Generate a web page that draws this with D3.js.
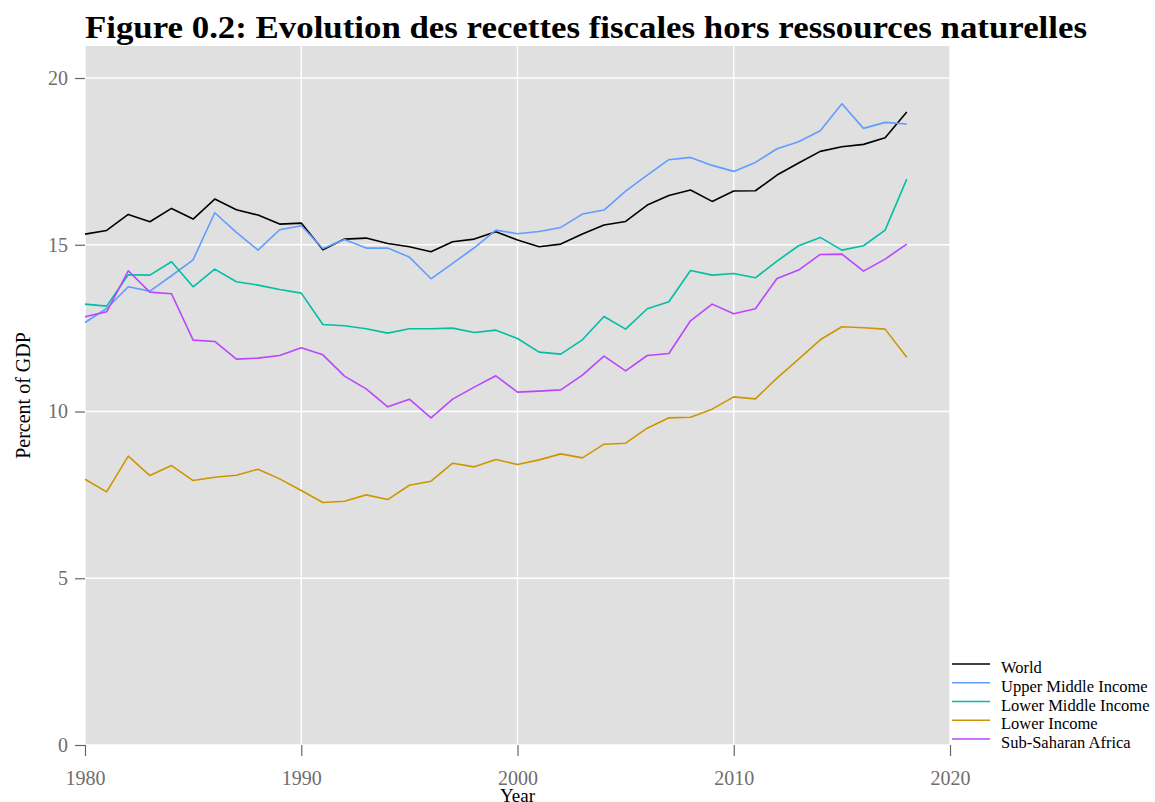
<!DOCTYPE html>
<html>
<head>
<meta charset="utf-8">
<script src="https://cdn.jsdelivr.net/npm/d3@7"></script>
<style>
  body { margin: 0; background: #fff; }
  svg { display: block; }
  text { font-family: "Liberation Serif", "Times New Roman", serif; }
</style>
</head>
<body>
<div id="chart"></div>
<script>
// years on the x axis
let years = d3.range(1980, 2019);

// series values, percent of GDP
let world = [15.32, 15.43, 15.91, 15.69, 16.09, 15.77, 16.37, 16.05, 15.89, 15.62,
             15.65, 14.85, 15.17, 15.20, 15.04, 14.94, 14.79, 15.09, 15.17, 15.39,
             15.14, 14.94, 15.02, 15.32, 15.59, 15.70, 16.19, 16.48, 16.64, 16.30,
             16.61, 16.62, 17.09, 17.45, 17.80, 17.94, 18.01, 18.21, 18.98];
let upperMiddle = [12.67, 13.09, 13.74, 13.61, 14.07, 14.55, 15.96, 15.37, 14.84, 15.45,
                   15.57, 14.89, 15.16, 14.90, 14.90, 14.63, 13.98, 14.44, 14.91, 15.44,
                   15.33, 15.40, 15.52, 15.92, 16.04, 16.61, 17.09, 17.55, 17.62, 17.38,
                   17.20, 17.47, 17.88, 18.09, 18.42, 19.23, 18.49, 18.67, 18.62];
let lowerMiddle = [13.22, 13.16, 14.10, 14.09, 14.49, 13.74, 14.27, 13.89, 13.79, 13.66,
                   13.55, 12.61, 12.57, 12.48, 12.35, 12.48, 12.48, 12.50, 12.37, 12.44,
                   12.19, 11.78, 11.72, 12.15, 12.85, 12.47, 13.08, 13.29, 14.23, 14.09,
                   14.14, 14.01, 14.51, 14.97, 15.22, 14.84, 14.97, 15.44, 16.97];
let lowerIncome = [7.97, 7.59, 8.66, 8.08, 8.38, 7.93, 8.03, 8.09, 8.27, 7.98,
                   7.63, 7.27, 7.31, 7.50, 7.36, 7.79, 7.91, 8.45, 8.34, 8.56,
                   8.41, 8.55, 8.73, 8.61, 9.02, 9.05, 9.50, 9.81, 9.83, 10.07,
                   10.44, 10.38, 11.00, 11.57, 12.15, 12.54, 12.51, 12.47, 11.63];
let subSaharan = [12.84, 12.99, 14.22, 13.58, 13.53, 12.14, 12.10, 11.57, 11.60, 11.68,
                  11.91, 11.70, 11.06, 10.68, 10.14, 10.37, 9.81, 10.37, 10.73, 11.07,
                  10.58, 10.61, 10.65, 11.09, 11.66, 11.22, 11.68, 11.74, 12.72, 13.22,
                  12.93, 13.08, 13.99, 14.24, 14.71, 14.72, 14.21, 14.57, 15.02];

let seriesNames = ['World', 'Upper Middle Income', 'Lower Middle Income', 'Lower Income', 'Sub-Saharan Africa'];
let seriesValues = [world, upperMiddle, lowerMiddle, lowerIncome, subSaharan];
let seriesColors = ['#000000', '#619CFF', '#00BFA5', '#CD9600', '#BA45FF'];

let xTicks = [1980, 1990, 2000, 2010, 2020];
let yTicks = [0, 5, 10, 15, 20];

let width = 1155, height = 802;
let panel = { left: 85, right: 950, top: 46, bottom: 745 };

let svg = d3.select('#chart').append('svg')
    .attr('width', width).attr('height', height);

let x = d3.scaleLinear().domain([1980, 2020]).range([panel.left, panel.right]);
let y = d3.scaleLinear().domain([0, 20.96]).range([panel.bottom, panel.top]);

// grey panel
svg.append('rect')
   .attr('x', panel.left).attr('y', panel.top)
   .attr('width', panel.right - panel.left).attr('height', panel.bottom - panel.top)
   .attr('fill', '#e0e0e0');

// white grid lines
svg.append('g').selectAll('line')
   .data(yTicks).enter().append('line')
   .attr('x1', panel.left).attr('x2', panel.right)
   .attr('y1', d => y(d)).attr('y2', d => y(d))
   .attr('stroke', '#fff').attr('stroke-width', 1.4);
svg.append('g').selectAll('line')
   .data(xTicks).enter().append('line')
   .attr('x1', d => x(d)).attr('x2', d => x(d))
   .attr('y1', panel.top).attr('y2', panel.bottom)
   .attr('stroke', '#fff').attr('stroke-width', 1.4);

// axes, ticks outside the panel
let xAxis = svg.append('g')
   .attr('transform', 'translate(0,' + panel.bottom + ')')
   .call(d3.axisBottom(x).tickValues(xTicks).tickFormat(d3.format('d')).tickSize(11).tickPadding(15));
let yAxis = svg.append('g')
   .attr('transform', 'translate(' + panel.left + ',0)')
   .call(d3.axisLeft(y).tickValues(yTicks).tickSize(10).tickPadding(7));

[xAxis, yAxis].forEach(function (g) {
    g.select('.domain').remove();
    g.selectAll('line').attr('stroke', '#666').attr('stroke-width', 1.2);
    g.selectAll('text').attr('fill', '#6e6e6e').style('font-size', '20px')
     .style('font-family', '"Liberation Serif", serif');
});

// lines
let line = d3.line()
   .x((d, i) => x(years[i]))
   .y(d => y(d));

svg.append('g').selectAll('path')
   .data(seriesValues).enter().append('path')
   .attr('d', line)
   .attr('fill', 'none')
   .attr('stroke', (d, i) => seriesColors[i])
   .attr('stroke-width', 1.6)
   .attr('stroke-linejoin', 'round');

// title
svg.append('text')
   .attr('x', 85).attr('y', 38)
   .style('font-size', '31px').style('font-weight', 'bold')
   .attr('textLength', 1002).attr('lengthAdjust', 'spacingAndGlyphs')
   .text('Figure 0.2: Evolution des recettes fiscales hors ressources naturelles');

// axis titles
svg.append('text')
   .attr('x', (panel.left + panel.right) / 2).attr('y', 801.5)
   .attr('text-anchor', 'middle').style('font-size', '19px')
   .text('Year');
svg.append('text')
   .attr('transform', 'translate(30,' + ((panel.top + panel.bottom) / 2) + ') rotate(-90)')
   .attr('text-anchor', 'middle').style('font-size', '20px')
   .text('Percent of GDP');

// legend
let legend = svg.append('g').selectAll('g')
   .data(seriesNames).enter().append('g')
   .attr('transform', (d, i) => 'translate(952,' + (664 + i * 18.75) + ')');
legend.append('line')
   .attr('x1', 0).attr('x2', 38).attr('y1', 0).attr('y2', 0)
   .attr('stroke', (d, i) => seriesColors[i]).attr('stroke-width', 1.6);
legend.append('text')
   .attr('x', 49).attr('y', 9)
   .style('font-size', '16.5px')
   .text(d => d);
</script>
</body>
</html>
